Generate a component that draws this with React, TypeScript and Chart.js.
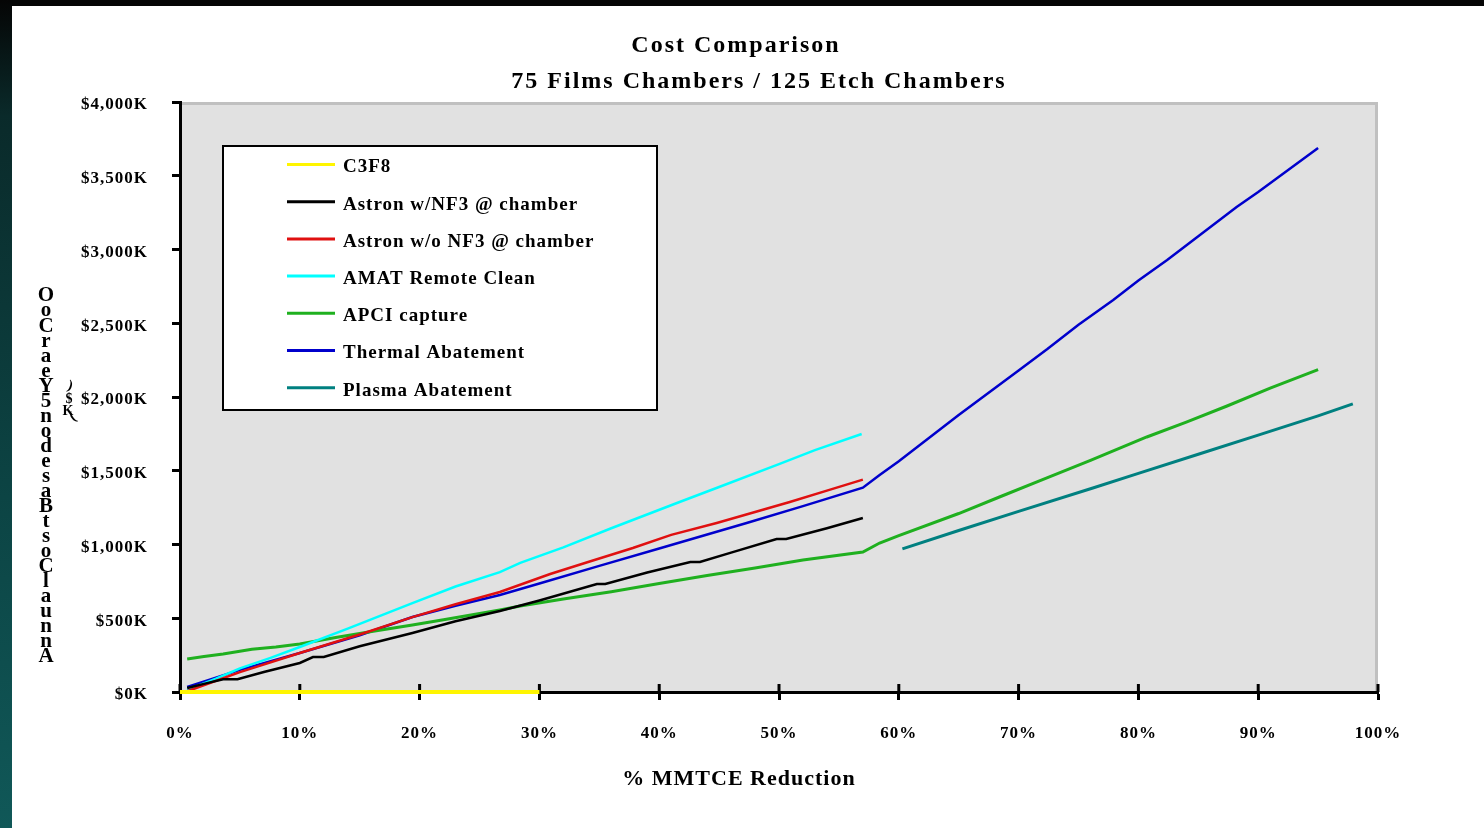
import React, { useEffect, useRef } from "react";
import { Chart, registerables } from "chart.js";

Chart.register(...registerables);

const FONT = "'Liberation Serif', 'Times New Roman', serif";

const TITLE_LINES = ["Cost Comparison", "75 Films Chambers / 125 Etch Chambers"];
const X_TITLE = "% MMTCE Reduction";
const Y_TITLE = "Annual Cost Based on 5 Year CoO";

const SERIES_LABELS = [
  "C3F8",
  "Astron w/NF3 @ chamber",
  "Astron w/o NF3 @ chamber",
  "AMAT Remote Clean",
  "APCI capture",
  "Thermal Abatement",
  "Plasma Abatement",
];
const SERIES_COLORS = ["#FFF500", "#000000", "#E01010", "#00FFFF", "#1FB01F", "#0000CC", "#008080"];
const SERIES_WIDTHS = [4, 2.5, 2.5, 2.5, 3, 2.5, 3];

// % MMTCE reduction (x) and cost in $K (y)
const C3F8_X = [0, 30];
const C3F8_Y = [0, 0];

const ASTRON_NF3_X = [0.6, 2, 3.6, 4.8, 7, 10, 11.1, 12, 15, 19.4, 23, 26.7, 30, 34.8, 35.5, 39, 42.6, 43.4, 46, 49.8, 50.6, 54, 57];
const ASTRON_NF3_Y = [27, 55, 86, 86, 136, 197, 237, 237, 310, 400, 480, 549, 620, 732, 732, 810, 881, 881, 945, 1037, 1037, 1110, 1180];

const ASTRON_NO_NF3_X = [0.6, 5, 10, 15, 19.4, 23, 26.7, 30.9, 34, 37.8, 41, 44.8, 48, 50.9, 54, 57];
const ASTRON_NO_NF3_Y = [5, 135, 264, 390, 508, 595, 678, 800, 880, 976, 1065, 1146, 1220, 1288, 1365, 1440];

const AMAT_X = [0.6, 3, 5, 7.5, 10, 14, 19.4, 23, 26.7, 28.4, 32, 36, 41.7, 45, 50, 53, 56.9];
const AMAT_Y = [14, 90, 160, 230, 305, 430, 603, 715, 813, 875, 980, 1110, 1288, 1390, 1545, 1640, 1749];

const APCI_X = [0.6, 2, 3.6, 6, 8, 10, 13, 16, 19.4, 22, 26.7, 28.4, 32, 36, 40, 44, 48, 52, 57, 58.4, 60, 65, 68.4, 72, 76, 80.7, 84, 87.4, 91, 95];
const APCI_Y = [224, 240, 258, 290, 305, 325, 370, 410, 454, 490, 556, 583, 630, 680, 735, 790, 840, 895, 949, 1010, 1060, 1210, 1322, 1440, 1570, 1729, 1830, 1939, 2060, 2185];

const THERMAL_X = [0.6, 5, 10, 15, 19.4, 23, 26.7, 30, 35, 40, 47.3, 52, 57, 58.4, 60, 65, 70, 72.4, 75, 77.9, 80, 82.4, 85, 88.2, 90, 95];
const THERMAL_Y = [34, 150, 264, 385, 508, 585, 658, 736, 855, 973, 1146, 1260, 1385, 1471, 1565, 1878, 2180, 2325, 2490, 2658, 2790, 2929, 3090, 3288, 3390, 3688];

const PLASMA_X = [60.3, 65, 70, 76.2, 80, 85, 90, 95, 97.9];
const PLASMA_Y = [970, 1095, 1225, 1383, 1482, 1612, 1742, 1872, 1953];

const SERIES_X = [C3F8_X, ASTRON_NF3_X, ASTRON_NO_NF3_X, AMAT_X, APCI_X, THERMAL_X, PLASMA_X];
const SERIES_Y = [C3F8_Y, ASTRON_NF3_Y, ASTRON_NO_NF3_Y, AMAT_Y, APCI_Y, THERMAL_Y, PLASMA_Y];

const X_MIN = 0;
const X_MAX = 100;
const X_STEP = 10;
const Y_MIN = 0;
const Y_MAX = 4000;
const Y_STEP = 500;

const toPoints = (xs: number[], ys: number[]) => xs.map((x, i) => ({ x, y: ys[i] }));

const decorPlugin = {
  id: "decor",
  beforeDraw(chart: any) {
    const { ctx, chartArea: a } = chart;
    ctx.save();
    ctx.fillStyle = "#E1E1E1";
    ctx.fillRect(a.left, a.top, a.right - a.left, a.bottom - a.top);
    ctx.strokeStyle = "#C0C0C0";
    ctx.lineWidth = 3;
    ctx.beginPath();
    ctx.moveTo(a.left, a.top + 1.5);
    ctx.lineTo(a.right - 1.5, a.top + 1.5);
    ctx.lineTo(a.right - 1.5, a.bottom);
    ctx.stroke();
    ctx.restore();
    ctx.letterSpacing = "1px";
  },
  beforeDatasetsDraw(chart: any) {
    const { ctx, chartArea: a } = chart;
    const xs = chart.scales.x;
    ctx.save();
    ctx.strokeStyle = "#000";
    ctx.lineWidth = 3;
    xs.ticks.forEach((t: any) => {
      const px = xs.getPixelForValue(t.value);
      ctx.beginPath();
      ctx.moveTo(px, a.bottom - 8);
      ctx.lineTo(px, a.bottom);
      ctx.stroke();
    });
    ctx.restore();
  },
  afterDraw(chart: any) {
    const { ctx } = chart;
    ctx.save();
    ctx.fillStyle = "#000";
    ctx.textBaseline = "middle";
    ctx.textAlign = "center";
    // titles
    ctx.font = `bold 24px ${FONT}`;
    ctx.letterSpacing = "2px";
    ctx.fillText(TITLE_LINES[0], 736, 46);
    ctx.fillText(TITLE_LINES[1], 759, 82);
    // x title
    ctx.font = `bold 22px ${FONT}`;
    ctx.letterSpacing = "1px";
    ctx.fillText(X_TITLE, 739, 779);
    // stacked y title (characters in reversed order, top to bottom)
    const chars = Y_TITLE.replace(/ /g, "").split("").reverse();
    ctx.font = `bold 21px ${FONT}`;
    ctx.letterSpacing = "0px";
    const top = 296;
    const bottom = 657;
    const step = (bottom - top) / (chars.length - 1);
    chars.forEach((c, i) => ctx.fillText(c, 46, top + i * step));
    // ($K) unit fragment
    ctx.font = `bold 14px ${FONT}`;
    ctx.save();
    ctx.translate(70, 386);
    ctx.rotate(0.3);
    ctx.fillText(")", 0, 0);
    ctx.restore();
    ctx.fillText("$", 69, 399);
    ctx.fillText("K", 68, 411);
    ctx.save();
    ctx.translate(73, 417);
    ctx.rotate(-0.6);
    ctx.fillText("(", 0, 0);
    ctx.restore();
    ctx.restore();
    ctx.letterSpacing = "0px";
  },
  afterDatasetsDraw(chart: any) {
    const { ctx } = chart;
    const box = { left: 223, top: 146, right: 657, bottom: 410 };
    ctx.save();
    ctx.fillStyle = "#FFFFFF";
    ctx.fillRect(box.left, box.top, box.right - box.left, box.bottom - box.top);
    ctx.strokeStyle = "#000";
    ctx.lineWidth = 2;
    ctx.strokeRect(box.left, box.top, box.right - box.left, box.bottom - box.top);
    ctx.font = `bold 19px ${FONT}`;
    ctx.letterSpacing = "1px";
    ctx.textAlign = "left";
    ctx.textBaseline = "middle";
    chart.data.datasets.forEach((ds: any, i: number) => {
      const y = 164.5 + i * 37.2;
      ctx.strokeStyle = ds.borderColor;
      ctx.lineWidth = 3;
      ctx.beginPath();
      ctx.moveTo(287, y);
      ctx.lineTo(335, y);
      ctx.stroke();
      ctx.fillStyle = "#000";
      ctx.fillText(ds.label, 343, y + 3);
    });
    ctx.restore();
  },
};

export default function App() {
  const ref = useRef<HTMLCanvasElement | null>(null);

  useEffect(() => {
    if (!ref.current) return;
    const tickFont = { family: FONT, weight: "bold" as const, size: 17 };
    const chart = new Chart(ref.current, {
      type: "line",
      data: {
        datasets: SERIES_LABELS.map((label, i) => ({
          label,
          data: toPoints(SERIES_X[i], SERIES_Y[i]),
          borderColor: SERIES_COLORS[i],
          backgroundColor: SERIES_COLORS[i],
          borderWidth: SERIES_WIDTHS[i],
          pointRadius: 0,
          tension: 0,
          fill: false,
          clip: 8,
        })),
      },
      options: {
        responsive: false,
        maintainAspectRatio: false,
        animation: false,
        events: [],
        layout: { padding: { left: 0, top: 102, right: 106, bottom: 0 } },
        plugins: {
          legend: { display: false },
          title: { display: false },
          tooltip: { enabled: false },
        },
        scales: {
          x: {
            type: "linear",
            min: X_MIN,
            max: X_MAX,
            afterFit: (s: any) => {
              s.height = 136;
            },
            ticks: {
              stepSize: X_STEP,
              autoSkip: false,
              maxRotation: 0,
              padding: 23,
              color: "#000",
              font: tickFont,
              callback: (v: any) => `${v}%`,
            },
            grid: {
              drawOnChartArea: false,
              drawTicks: true,
              tickLength: 8,
              tickWidth: 3,
              tickColor: "#000",
            },
            border: { display: true, color: "#000", width: 3 },
          },
          y: {
            type: "linear",
            min: Y_MIN,
            max: Y_MAX,
            afterFit: (s: any) => {
              s.width = 180;
            },
            ticks: {
              stepSize: Y_STEP,
              autoSkip: false,
              padding: 24,
              labelOffset: 3,
              color: "#000",
              font: tickFont,
              callback: (v: any) => `$${Number(v).toLocaleString("en-US")}K`,
            },
            grid: {
              drawOnChartArea: false,
              drawTicks: true,
              tickLength: 8,
              tickWidth: 3,
              tickColor: "#000",
            },
            border: { display: true, color: "#000", width: 3 },
          },
        },
      },
      plugins: [decorPlugin],
    });
    return () => chart.destroy();
  }, []);

  return (
    <div
      style={{
        position: "fixed",
        left: 0,
        top: 0,
        width: 1484,
        height: 828,
        background: "#FFFFFF",
        overflow: "hidden",
      }}
    >
      <div style={{ position: "absolute", left: 0, top: 0, width: 1484, height: 6, background: "#050505" }} />
      <div
        style={{
          position: "absolute",
          left: 0,
          top: 0,
          width: 12,
          height: 828,
          background: "linear-gradient(#050505 0%, #0a2a2a 14%, #0c4444 60%, #105858 100%)",
        }}
      />
      <canvas ref={ref} width={1484} height={828} style={{ position: "absolute", left: 0, top: 0, display: "block" }} />
    </div>
  );
}
